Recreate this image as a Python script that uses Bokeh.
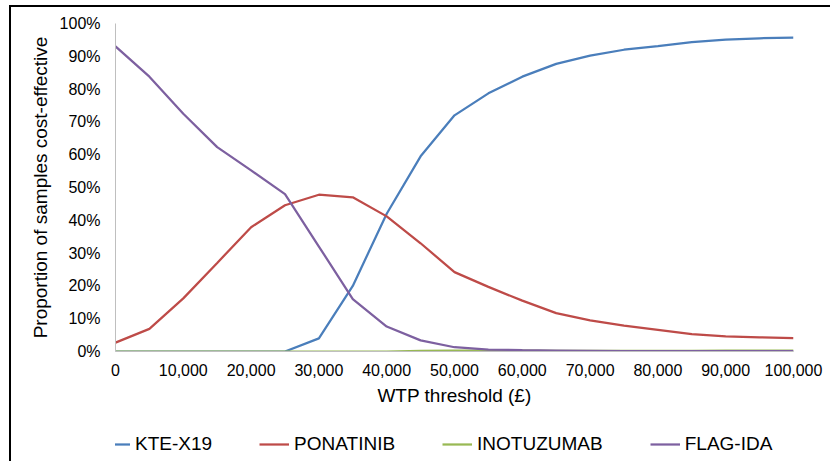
from bokeh.plotting import figure
from bokeh.layouts import column
from bokeh.models import Range1d, NumeralTickFormatter, FixedTicker, Legend, LegendItem
from bokeh.embed import file_html
from bokeh.resources import INLINE

wtp = [0, 5000, 10000, 15000, 20000, 25000, 30000, 35000, 40000, 45000, 50000,
       55000, 60000, 65000, 70000, 75000, 80000, 85000, 90000, 95000, 100000]
kte_x19 = [0, 0, 0, 0, 0, 0, 0.04, 0.20, 0.42, 0.595, 0.72,
           0.787, 0.838, 0.877, 0.902, 0.92, 0.931, 0.943, 0.951, 0.955, 0.957]
ponatinib = [0.027, 0.069, 0.162, 0.27, 0.379, 0.446, 0.478, 0.47, 0.412, 0.33, 0.242,
             0.197, 0.155, 0.117, 0.095, 0.079, 0.066, 0.053, 0.046, 0.043, 0.041]
inotuzumab = [0, 0, 0, 0, 0, 0, 0, 0, 0, 0.002, 0.003,
              0.003, 0.003, 0.002, 0.002, 0.002, 0.002, 0.002, 0.003, 0.003, 0.003]
flag_ida = [0.93, 0.838, 0.725, 0.623, 0.552, 0.48, 0.32, 0.16, 0.076, 0.034, 0.013,
            0.006, 0.004, 0.003, 0.002, 0.001, 0.001, 0.001, 0.001, 0.001, 0.001]

series_names = ["KTE-X19", "PONATINIB", "INOTUZUMAB", "FLAG-IDA"]
series_values = [kte_x19, ponatinib, inotuzumab, flag_ida]
series_colors = ["#4A7EBB", "#BE4B48", "#98B954", "#7D60A0"]
x_ticks = [0, 10000, 20000, 30000, 40000, 50000, 60000, 70000, 80000, 90000, 100000]
y_ticks = [0, 0.1, 0.2, 0.3, 0.4, 0.5, 0.6, 0.7, 0.8, 0.9, 1.0]

FONT = "Liberation Sans"
DX, DY = 11, 7  # page offset of the chart box (outer border drawn just outside it)
LEFT = 115 - DX
RIGHT = 39

p = figure(frame_width=678, frame_height=328,
           min_border_left=LEFT, min_border_right=RIGHT, min_border_top=23 - DY,
           min_border_bottom=62,
           x_range=Range1d(0, 100000), y_range=Range1d(0, 1),
           output_backend="svg", toolbar_location=None)
p.outline_line_color = None
p.xgrid.grid_line_color = None
p.ygrid.grid_line_color = None
p.background_fill_color = "white"
p.border_fill_color = "white"

for name, vals, col in zip(series_names, series_values, series_colors):
    p.line(wtp, vals, line_color=col, line_width=2.25)

for ax in (p.xaxis[0], p.yaxis[0]):
    ax.axis_line_color = "#BFBFBF"
    ax.axis_line_width = 1
    ax.major_tick_line_color = None
    ax.minor_tick_line_color = None
    ax.major_tick_out = 0
    ax.major_tick_in = 0
    ax.major_label_text_font = FONT
    ax.major_label_text_font_size = "16px"
    ax.major_label_text_color = "#000000"
    ax.axis_label_text_font = FONT
    ax.axis_label_text_font_size = "19px"
    ax.axis_label_text_font_style = "normal"
    ax.axis_label_text_color = "#000000"

p.xaxis[0].ticker = FixedTicker(ticks=x_ticks)
p.xaxis[0].formatter = NumeralTickFormatter(format="0,0")
p.xaxis[0].axis_label = "WTP threshold (£)"
p.xaxis[0].major_label_standoff = 12
p.xaxis[0].axis_label_standoff = 6

p.yaxis[0].ticker = FixedTicker(ticks=y_ticks)
p.yaxis[0].formatter = NumeralTickFormatter(format="0%")
p.yaxis[0].axis_label = "Proportion of samples cost-effective"
p.yaxis[0].major_label_standoff = 15
p.yaxis[0].axis_label_standoff = 6

# legend strip below the chart (its frame is aligned with the main frame by the column)
lf = figure(frame_width=678, height=50, min_border_left=LEFT, min_border_right=RIGHT,
            min_border_top=0, min_border_bottom=0,
            x_range=Range1d(0, 1), y_range=Range1d(0, 1),
            x_axis_location=None, y_axis_location=None,
            output_backend="svg", toolbar_location=None)
lf.grid.visible = False
lf.outline_line_color = None
lf.background_fill_color = "white"
lf.border_fill_color = "white"
leg_items = []
for name, vals, col in zip(series_names, series_values, series_colors):
    # single-point line: draws nothing in the strip, only supplies the legend glyph
    r = lf.line(x=wtp[:1], y=vals[:1], line_color=col, line_width=2.25)
    leg_items.append(LegendItem(label=name, renderers=[r]))
legend = Legend(items=leg_items, orientation="horizontal", location=(100 - 115, 8),
                glyph_width=30, glyph_height=20, label_standoff=5, spacing=47,
                padding=0, margin=0, border_line_color=None, background_fill_alpha=0,
                label_text_font=FONT, label_text_font_size="19px", label_text_color="#000000")
lf.add_layout(legend, "center")

layout = column(p, lf, spacing=0)
layout.styles = {"margin-left": f"{DX}px", "margin-top": f"{DY}px",
                 "box-shadow": "-2px -2px 0 0 #000",
                 "clip-path": "inset(-3px 2px 0px -3px)"}

open("out.html", "w").write(file_html(layout, INLINE))
